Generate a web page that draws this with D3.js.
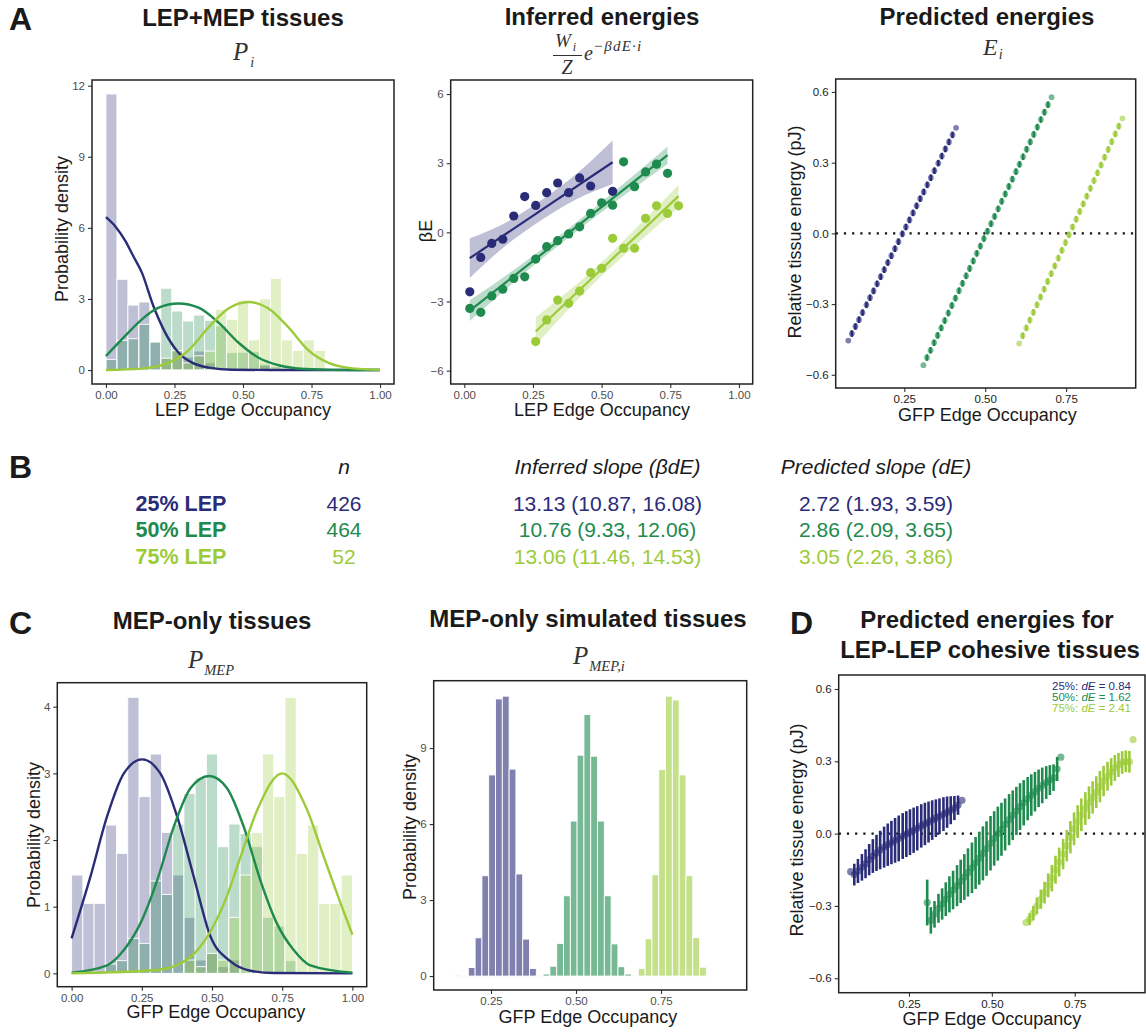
<!DOCTYPE html>
<html>
<head>
<meta charset="utf-8">
<script src="https://cdn.jsdelivr.net/npm/d3@7"></script>
<style>
  body { margin: 0; background: #fff; }
  svg { display: block; font-family: "Liberation Sans", Arial, Helvetica, sans-serif; }
</style>
</head>
<body>
<div id="fig"></div>
<script>
// series colours: 25%, 50%, 75% LEP
const colors = ["#2a2c78", "#1e8a4e", "#9ccb3a"];
const groupLabels = ["25% LEP", "50% LEP", "75% LEP"];

// ---- A (left): LEP+MEP tissues, histogram bins of width 0.04
const binWidth = 0.04;
const binLeft = [0, 0.04, 0.08, 0.12, 0.16, 0.2, 0.24, 0.28, 0.32, 0.36, 0.4, 0.44, 0.48, 0.52, 0.56, 0.6, 0.64, 0.68, 0.72, 0.76, 0.8, 0.84, 0.88, 0.92, 0.96];
const histA25 = [11.65, 3.83, 2.74, 2.87, 1.18, 0.5, 0.8, 0.55, 0.8, 0.3, 0, 0, 0, 0, 0.2, 0, 0, 0, 0, 0, 0, 0, 0, 0, 0];
const histA50 = [0.45, 1.25, 1.32, 1.93, 1.18, 3.45, 2.49, 2.07, 2.32, 2.1, 1.86, 0.73, 0.75, 0.77, 0.25, 0.15, 0, 0, 0, 0, 0, 0, 0, 0, 0];
const histA75 = [0, 0, 0, 0, 0, 0.5, 0.82, 0.3, 0.6, 0.8, 2.56, 2.14, 2.95, 1.27, 3.0, 3.87, 1.27, 0.83, 1.27, 0.83, 0, 0, 0, 0, 0];
// fitted densities
const fitA25 = [[0, 6.45], [0.035, 6.05], [0.0706, 5.45], [0.1, 4.8], [0.131, 4.11], [0.173, 2.7], [0.216, 1.58], [0.265, 0.73], [0.314, 0.31], [0.375, 0.1], [0.46, 0.01], [0.6, 0], [1, 0]];
const fitA50 = [[0, 0.59], [0.07, 1.44], [0.131, 2.14], [0.192, 2.63], [0.265, 2.81], [0.338, 2.63], [0.411, 2.0], [0.484, 1.15], [0.557, 0.52], [0.63, 0.2], [0.727, 0.04], [0.825, 0.005], [1, 0]];
const fitA75 = [[0, 0], [0.131, 0.06], [0.228, 0.3], [0.301, 0.83], [0.374, 1.8], [0.447, 2.6], [0.52, 2.87], [0.593, 2.6], [0.666, 1.8], [0.739, 0.83], [0.812, 0.3], [0.909, 0.06], [1, 0.01]];

// ---- A (middle): inferred energies, points, lm fits and bands
const ptsB25 = [[0.02, -2.58], [0.06, -1.09], [0.10, -0.48], [0.14, -0.30], [0.18, 0.71], [0.22, 1.55], [0.26, 1.17], [0.30, 1.72], [0.34, 2.14], [0.38, 1.72], [0.42, 2.36], [0.46, 2.01], [0.54, 1.78]];
const ptsB50 = [[0.02, -3.30], [0.06, -3.47], [0.10, -2.76], [0.14, -2.47], [0.18, -2.00], [0.22, -1.93], [0.26, -1.16], [0.30, -0.62], [0.34, -0.36], [0.38, -0.07], [0.42, 0.24], [0.46, 0.82], [0.50, 1.28], [0.54, 1.18], [0.58, 3.06], [0.62, 1.98], [0.66, 2.62], [0.70, 2.96], [0.74, 2.56]];
const ptsB75 = [[0.26, -4.74], [0.30, -3.80], [0.34, -2.94], [0.38, -3.08], [0.42, -2.55], [0.46, -1.75], [0.50, -1.56], [0.54, -0.26], [0.58, -0.69], [0.62, -0.69], [0.66, 0.61], [0.70, 1.15], [0.74, 0.82], [0.78, 1.15]];
const lineB25 = [[0.02, -1.12], [0.54, 3.04]];
const lineB50 = [[0.02, -3.4], [0.74, 3.35]];
const lineB75 = [[0.26, -4.3], [0.78, 1.57]];
const bandB25 = [[0.02, -1.98, -0.26], [0.15, -0.58, 0.42], [0.28, 0.53, 1.39], [0.41, 1.45, 2.55], [0.54, 2.1, 3.98]];
const bandB50 = [[0.02, -3.85, -2.95], [0.2, -1.96, -1.46], [0.38, -0.22, 0.17], [0.56, 1.41, 1.91], [0.74, 2.97, 3.73]];
const bandB75 = [[0.26, -4.92, -3.68], [0.39, -3.21, -2.45], [0.52, -1.67, -1.07], [0.65, -0.28, 0.48], [0.78, 1.09, 2.05]];

// ---- A (right): predicted energies [occupancy, energy (pJ)]
const predA25 = [[0.077, -0.455], [0.088, -0.425], [0.099, -0.395], [0.110, -0.366], [0.121, -0.336], [0.133, -0.303], [0.144, -0.273], [0.155, -0.244], [0.166, -0.214], [0.177, -0.184], [0.188, -0.154], [0.199, -0.124], [0.210, -0.095], [0.221, -0.065], [0.232, -0.035], [0.244, -0.002], [0.255, 0.027], [0.266, 0.057], [0.277, 0.087], [0.288, 0.117], [0.299, 0.147], [0.310, 0.176], [0.321, 0.206], [0.332, 0.236], [0.343, 0.266], [0.355, 0.298], [0.366, 0.328], [0.377, 0.358], [0.388, 0.388], [0.399, 0.418], [0.410, 0.448]];
const predA50 = [[0.309, -0.559], [0.320, -0.527], [0.331, -0.496], [0.342, -0.464], [0.353, -0.433], [0.364, -0.401], [0.375, -0.370], [0.386, -0.338], [0.397, -0.306], [0.408, -0.275], [0.419, -0.243], [0.430, -0.212], [0.441, -0.180], [0.452, -0.149], [0.463, -0.117], [0.474, -0.085], [0.485, -0.054], [0.496, -0.022], [0.507, 0.009], [0.518, 0.041], [0.529, 0.072], [0.540, 0.104], [0.551, 0.136], [0.562, 0.167], [0.573, 0.199], [0.584, 0.230], [0.595, 0.262], [0.606, 0.293], [0.617, 0.325], [0.628, 0.357], [0.639, 0.388], [0.650, 0.420], [0.661, 0.451], [0.672, 0.483], [0.683, 0.514], [0.694, 0.546], [0.705, 0.578]];
const predA75 = [[0.605, -0.467], [0.616, -0.434], [0.627, -0.401], [0.638, -0.368], [0.649, -0.335], [0.660, -0.303], [0.671, -0.270], [0.682, -0.237], [0.693, -0.204], [0.704, -0.171], [0.715, -0.138], [0.726, -0.105], [0.737, -0.072], [0.748, -0.039], [0.759, -0.006], [0.770, 0.027], [0.781, 0.060], [0.792, 0.093], [0.803, 0.125], [0.814, 0.158], [0.825, 0.191], [0.836, 0.224], [0.847, 0.257], [0.858, 0.290], [0.869, 0.323], [0.880, 0.356], [0.891, 0.389], [0.902, 0.422], [0.913, 0.455], [0.924, 0.488]];
const predErrA = 0.014;

// ---- B: table
const tableHeader = ["n", "Inferred slope (βdE)", "Predicted slope (dE)"];
const tableN = ["426", "464", "52"];
const tableInferred = ["13.13 (10.87, 16.08)", "10.76 (9.33, 12.06)", "13.06 (11.46, 14.53)"];
const tablePredicted = ["2.72 (1.93, 3.59)", "2.86 (2.09, 3.65)", "3.05 (2.26, 3.86)"];

// ---- C (left): MEP-only tissues, same bins as A
const histC25 = [1.475, 1.05, 1.05, 2.225, 1.8, 4.14, 2.65, 3.29, 2.115, 1.475, 0.84, 0.2, 0.3, 0.1, 0.2, 0, 0, 0, 0, 0, 0, 0, 0, 0, 0];
const histC50 = [0, 0, 0, 0.14, 0.19, 0.525, 0.45, 1.385, 1.185, 2.24, 2.7, 2.93, 3.29, 1.9, 2.24, 2.1, 1.9, 0.84, 0.71, 0.19, 0, 0, 0, 0, 0];
const histC75 = [0, 0, 0, 0, 0, 0, 0, 0, 0, 0, 0.2, 0.1, 0.3, 0.2, 0.84, 1.475, 2.115, 3.29, 2.65, 4.14, 1.8, 2.225, 1.05, 1.05, 1.475];
const fitC25 = [[0, 0.525], [0.067, 1.45], [0.126, 2.35], [0.186, 3.0], [0.251, 3.21], [0.316, 3.0], [0.376, 2.35], [0.435, 1.45], [0.494, 0.56], [0.566, 0.18], [0.637, 0.04], [0.72, 0.005], [1, 0]];
const fitC50 = [[0, 0.01], [0.126, 0.12], [0.186, 0.35], [0.245, 0.75], [0.305, 1.4], [0.364, 2.2], [0.424, 2.78], [0.49, 2.96], [0.553, 2.78], [0.613, 2.2], [0.672, 1.4], [0.731, 0.75], [0.791, 0.35], [0.85, 0.12], [1, 0.01]];
const fitC75 = [[0, 0], [0.305, 0.05], [0.424, 0.25], [0.483, 0.55], [0.543, 1.05], [0.602, 1.75], [0.661, 2.45], [0.75, 3.0], [0.839, 2.45], [0.898, 1.75], [0.958, 1.05], [1, 0.58]];

// ---- C (middle): simulated MEP-only tissues, bins of width 0.02
const simBinWidth = 0.02;
const simBinLeft = [0.1433, 0.1633, 0.1833, 0.2033, 0.2233, 0.2433, 0.2633, 0.2833, 0.3033, 0.3233, 0.3433, 0.3633, 0.3833, 0.4033, 0.4233, 0.4433, 0.4633, 0.4833, 0.5033, 0.5233, 0.5433, 0.5633, 0.5833, 0.6033, 0.6233, 0.6433, 0.6633, 0.6833, 0.7033, 0.7233, 0.7433, 0.7633, 0.7833, 0.8033, 0.8233, 0.8433, 0.8633, 0.8833];
const sim25 = [0.01, 0.03, 0.34, 1.51, 3.96, 7.94, 10.94, 11.05, 8.17, 4.03, 1.46, 0.30, 0.02, 0, 0, 0, 0, 0, 0, 0, 0, 0, 0, 0, 0, 0, 0, 0, 0, 0, 0, 0, 0, 0, 0, 0, 0, 0];
const sim50 = [0, 0, 0, 0, 0, 0, 0, 0, 0, 0, 0, 0, 0, 0.08, 0.39, 1.29, 3.17, 6.12, 8.72, 10.33, 8.68, 6.12, 3.17, 1.27, 0.37, 0.08, 0.01, 0, 0, 0, 0, 0, 0, 0, 0, 0, 0, 0];
const sim75 = [0, 0, 0, 0, 0, 0, 0, 0, 0, 0, 0, 0, 0, 0, 0, 0, 0, 0, 0, 0, 0, 0, 0, 0, 0, 0, 0.01, 0.30, 1.47, 4.00, 8.15, 11.05, 10.90, 7.94, 3.96, 1.52, 0.35, 0.03];

// ---- D: predicted energies for LEP-LEP cohesive tissues [occupancy, energy, half error]
const predD25 = [[0.074, -0.158, 0], [0.085, -0.170, 0.045], [0.096, -0.155, 0.05], [0.108, -0.140, 0.055], [0.119, -0.125, 0.06], [0.130, -0.108, 0.065], [0.141, -0.093, 0.07], [0.152, -0.080, 0.075], [0.163, -0.068, 0.08], [0.175, -0.056, 0.085], [0.186, -0.046, 0.088], [0.197, -0.037, 0.09], [0.208, -0.028, 0.093], [0.219, -0.020, 0.095], [0.231, -0.010, 0.095], [0.242, -0.002, 0.095], [0.253, 0.006, 0.095], [0.264, 0.014, 0.094], [0.275, 0.022, 0.092], [0.287, 0.032, 0.09], [0.298, 0.040, 0.088], [0.309, 0.048, 0.085], [0.320, 0.056, 0.082], [0.331, 0.064, 0.078], [0.342, 0.072, 0.074], [0.354, 0.081, 0.07], [0.365, 0.089, 0.065], [0.376, 0.097, 0.058], [0.387, 0.106, 0.05], [0.398, 0.118, 0.04], [0.410, 0.138, 0]];
const predD50 = [[0.305, -0.286, 0.095], [0.316, -0.360, 0.055], [0.327, -0.335, 0.055], [0.339, -0.310, 0.06], [0.350, -0.292, 0.065], [0.361, -0.272, 0.07], [0.372, -0.252, 0.075], [0.383, -0.234, 0.08], [0.395, -0.216, 0.085], [0.406, -0.198, 0.09], [0.417, -0.180, 0.095], [0.428, -0.161, 0.1], [0.440, -0.142, 0.105], [0.451, -0.122, 0.108], [0.462, -0.102, 0.11], [0.473, -0.082, 0.112], [0.484, -0.062, 0.113], [0.496, -0.040, 0.113], [0.507, -0.020, 0.113], [0.518, 0.000, 0.112], [0.529, 0.018, 0.11], [0.540, 0.038, 0.108], [0.552, 0.058, 0.106], [0.563, 0.076, 0.103], [0.574, 0.094, 0.1], [0.585, 0.112, 0.097], [0.596, 0.128, 0.094], [0.608, 0.145, 0.09], [0.619, 0.160, 0.086], [0.630, 0.174, 0.082], [0.641, 0.188, 0.078], [0.652, 0.200, 0.074], [0.664, 0.212, 0.068], [0.675, 0.222, 0.062], [0.686, 0.232, 0.055], [0.697, 0.268, 0.05], [0.708, 0.317, 0]];
const predD75 = [[0.603, -0.369, 0], [0.614, -0.355, 0.025], [0.625, -0.330, 0.03], [0.636, -0.300, 0.035], [0.648, -0.272, 0.04], [0.659, -0.245, 0.045], [0.670, -0.215, 0.05], [0.681, -0.185, 0.055], [0.692, -0.150, 0.058], [0.703, -0.118, 0.06], [0.715, -0.085, 0.063], [0.726, -0.050, 0.065], [0.737, -0.015, 0.067], [0.748, 0.020, 0.068], [0.759, 0.050, 0.068], [0.770, 0.078, 0.068], [0.782, 0.104, 0.068], [0.793, 0.128, 0.068], [0.804, 0.150, 0.067], [0.815, 0.172, 0.066], [0.826, 0.195, 0.065], [0.837, 0.218, 0.063], [0.849, 0.238, 0.06], [0.860, 0.256, 0.057], [0.871, 0.272, 0.054], [0.882, 0.285, 0.05], [0.893, 0.295, 0.047], [0.904, 0.300, 0.045], [0.915, 0.298, 0.045], [0.926, 0.390, 0]];
const legendD = [["25%: ", "0.84"], ["50%: ", "1.62"], ["75%: ", "2.41"]];

const serif = '"Liberation Serif", "DejaVu Serif", serif';
const ink = "#1a1a1a";

const svg = d3.select("#fig").append("svg").attr("width", 1146).attr("height", 1033);

function makePanel(p) {
  const x = d3.scaleLinear().domain(p.xDomain).range([p.left, p.right]);
  const y = d3.scaleLinear().domain(p.yDomain).range([p.bottom, p.top]);
  const g = svg.append("g");
  const plot = g.append("g");
  const xa = g.append("g").attr("transform", `translate(0,${p.bottom})`)
    .call(d3.axisBottom(x).tickValues(p.xTicks).tickFormat(d3.format(p.xFormat)).tickSize(4).tickPadding(3).tickSizeOuter(0));
  const ya = g.append("g").attr("transform", `translate(${p.left},0)`)
    .call(d3.axisLeft(y).tickValues(p.yTicks).tickFormat(d3.format(p.yFormat)).tickSize(4).tickPadding(3).tickSizeOuter(0));
  [xa, ya].forEach(a => {
    a.attr("font-family", null).attr("font-size", null);
    a.select(".domain").remove();
    a.selectAll("line").attr("stroke", "#333").attr("stroke-width", 1.1);
    a.selectAll("text").attr("font-size", 11.5).attr("fill", p.tickColor || "#4d4d4d");
  });
  g.append("rect")
    .attr("x", p.left).attr("y", p.top)
    .attr("width", p.right - p.left).attr("height", p.bottom - p.top)
    .attr("fill", "none").attr("stroke", "#222").attr("stroke-width", 1.5);
  g.append("text").attr("x", p.xTitle[0]).attr("y", p.xTitle[1])
    .attr("text-anchor", "middle").attr("font-size", 18).attr("fill", ink).text(p.xLabel);
  g.append("text").attr("transform", `translate(${p.yTitle[0]},${p.yTitle[1]}) rotate(-90)`)
    .attr("text-anchor", "middle").attr("font-size", 18).attr("fill", ink).text(p.yLabel);
  return { x, y, plot };
}

function title(txt, cx, base) {
  svg.append("text").attr("x", cx).attr("y", base).attr("text-anchor", "middle")
    .attr("font-size", 24).attr("font-weight", "bold").attr("fill", ink).text(txt);
}
function letter(txt, x, base) {
  svg.append("text").attr("x", x).attr("y", base)
    .attr("font-size", 32).attr("font-weight", "bold").attr("fill", ink).text(txt);
}
function mathSub(main, sub, x, base, size, subSize, dx, dy) {
  const t = svg.append("text").attr("x", x).attr("y", base)
    .attr("font-family", serif).attr("font-style", "italic").attr("font-size", size).attr("fill", "#333");
  t.append("tspan").text(main);
  t.append("tspan").attr("dx", dx).attr("dy", dy).attr("font-size", subSize).text(sub);
}

function drawHist(P, lefts, width, heights, color, alpha) {
  const data = lefts.map((l, i) => ({ l, h: heights[i] })).filter(d => d.h > 0);
  P.plot.append("g").selectAll("rect").data(data).join("rect")
    .attr("x", d => P.x(d.l))
    .attr("width", d => P.x(d.l + width) - P.x(d.l))
    .attr("y", d => P.y(d.h))
    .attr("height", d => P.y(0) - P.y(d.h))
    .attr("fill", color).attr("fill-opacity", alpha)
    .attr("stroke", "#fff").attr("stroke-width", 0.9);
}
function drawCurve(P, pts, color, w) {
  P.plot.append("path").datum(pts)
    .attr("d", d3.line().x(d => P.x(d[0])).y(d => P.y(d[1])).curve(d3.curveMonotoneX))
    .attr("fill", "none").attr("stroke", color).attr("stroke-width", w || 2.4);
}
function drawPred(P, pts, color, r, errW, errConst) {
  const g = P.plot.append("g");
  g.selectAll("line").data(pts.filter((d, i) => (errConst != null ? (i > 0 && i < pts.length - 1) : d[2] > 0))).join("line")
    .attr("x1", d => P.x(d[0])).attr("x2", d => P.x(d[0]))
    .attr("y1", d => P.y(d[1] - (errConst != null ? errConst : d[2])))
    .attr("y2", d => P.y(d[1] + (errConst != null ? errConst : d[2])))
    .attr("stroke", color).attr("stroke-width", errW);
  g.selectAll("circle").data(pts).join("circle")
    .attr("cx", d => P.x(d[0])).attr("cy", d => P.y(d[1])).attr("r", r)
    .attr("fill", color).attr("fill-opacity", 0.6);
}
function zeroLine(P) {
  P.plot.append("line")
    .attr("x1", P.x.range()[0]).attr("x2", P.x.range()[1])
    .attr("y1", P.y(0)).attr("y2", P.y(0))
    .attr("stroke", "#111").attr("stroke-width", 2.2).attr("stroke-dasharray", "2.2,6");
}

// ================= Panel A =================
letter("A", 9, 30);
title("LEP+MEP tissues", 243, 26);
title("Inferred energies", 602, 24.5);
title("Predicted energies", 987, 25);

mathSub("P", "i", 233, 60, 25, 14, 2, 7);
mathSub("E", "i", 983, 55, 24, 14, 1, 4);

// W_i / Z e^{-βdE·i}
mathSub("W", "i", 555, 47, 19, 12, 2, 4);
svg.append("line").attr("x1", 553).attr("x2", 582).attr("y1", 55.5).attr("y2", 55.5).attr("stroke", "#333").attr("stroke-width", 1);
svg.append("text").attr("x", 567).attr("y", 74).attr("text-anchor", "middle")
  .attr("font-family", serif).attr("font-style", "italic").attr("font-size", 20).attr("fill", "#333").text("Z");
svg.append("text").attr("x", 584).attr("y", 60)
  .attr("font-family", serif).attr("font-style", "italic").attr("font-size", 20).attr("fill", "#333").text("e");
svg.append("text").attr("x", 593).attr("y", 51).attr("letter-spacing", 1.2)
  .attr("font-family", serif).attr("font-style", "italic").attr("font-size", 15).attr("fill", "#333").text("−βdE·i");

const pA1 = makePanel({
  left: 92, right: 394, top: 80, bottom: 384,
  xDomain: [-0.051, 1.051], yDomain: [-0.59, 12.24],
  xTicks: [0, 0.25, 0.5, 0.75, 1], xFormat: ".2f",
  yTicks: [0, 3, 6, 9, 12], yFormat: "d",
  xLabel: "LEP Edge Occupancy", xTitle: [243, 415.5],
  yLabel: "Probability density", yTitle: [68, 229]
});
drawHist(pA1, binLeft, binWidth, histA25, colors[0], 0.3);
drawHist(pA1, binLeft, binWidth, histA50, colors[1], 0.3);
drawHist(pA1, binLeft, binWidth, histA75, colors[2], 0.3);
drawCurve(pA1, fitA25, colors[0]);
drawCurve(pA1, fitA50, colors[1]);
drawCurve(pA1, fitA75, colors[2]);

const pA2 = makePanel({
  left: 450.7, right: 752.7, top: 80, bottom: 384,
  xDomain: [-0.0495, 1.05], yDomain: [-6.58, 6.61],
  xTicks: [0, 0.25, 0.5, 0.75, 1], xFormat: ".2f",
  yTicks: [-6, -3, 0, 3, 6], yFormat: "d",
  xLabel: "LEP Edge Occupancy", xTitle: [602, 415.5],
  yLabel: "βE", yTitle: [432, 231]
});
const bands = [bandB25, bandB50, bandB75];
const fits = [lineB25, lineB50, lineB75];
const ptsB = [ptsB25, ptsB50, ptsB75];
bands.forEach((b, i) => {
  pA2.plot.append("path").datum(b)
    .attr("d", d3.area().x(d => pA2.x(d[0])).y0(d => pA2.y(d[1])).y1(d => pA2.y(d[2])).curve(d3.curveMonotoneX))
    .attr("fill", colors[i]).attr("fill-opacity", 0.3);
});
fits.forEach((f, i) => drawCurve(pA2, f, colors[i], 2.2));
ptsB.forEach((pts, i) => {
  pA2.plot.append("g").selectAll("circle").data(pts).join("circle")
    .attr("cx", d => pA2.x(d[0])).attr("cy", d => pA2.y(d[1])).attr("r", 4.6)
    .attr("fill", colors[i]);
});

const pA3 = makePanel({
  left: 835.7, right: 1135.7, top: 79, bottom: 388,
  xDomain: [0.038, 0.965], yDomain: [-0.656, 0.655],
  xTicks: [0.25, 0.5, 0.75], xFormat: ".2f",
  yTicks: [-0.6, -0.3, 0, 0.3, 0.6], yFormat: ".1f",
  tickColor: "#222",
  xLabel: "GFP Edge Occupancy", xTitle: [987.5, 421],
  yLabel: "Relative tissue energy (pJ)", yTitle: [801, 232]
});
zeroLine(pA3);
[predA25, predA50, predA75].forEach((pts, i) => drawPred(pA3, pts, colors[i], 2.9, 2.5, predErrA));

// ================= Panel B (table) =================
letter("B", 9, 478);
const colX = [344, 607.5, 876];
tableHeader.forEach((h, i) => {
  svg.append("text").attr("x", colX[i]).attr("y", 474).attr("text-anchor", "middle")
    .attr("font-size", 21).attr("font-style", "italic").attr("fill", ink).text(h);
});
const rowY = [510.5, 537, 563.5];
groupLabels.forEach((lab, i) => {
  svg.append("text").attr("x", 181).attr("y", rowY[i]).attr("text-anchor", "middle")
    .attr("font-size", 21.5).attr("font-weight", "bold").attr("fill", colors[i]).text(lab);
  [tableN[i], tableInferred[i], tablePredicted[i]].forEach((v, j) => {
    svg.append("text").attr("x", colX[j]).attr("y", rowY[i]).attr("text-anchor", "middle")
      .attr("font-size", 21).attr("fill", colors[i]).text(v);
  });
});

// ================= Panel C =================
letter("C", 9, 634);
title("MEP-only tissues", 212, 629);
title("MEP-only simulated tissues", 588, 627);
mathSub("P", "MEP", 188, 668, 25, 14.5, 1, 7);
mathSub("P", "MEP,i", 573, 664, 25, 14.5, 1, 7);

const pC1 = makePanel({
  left: 57.3, right: 366.7, top: 682.7, bottom: 986.7,
  xDomain: [-0.051, 1.051], yDomain: [-0.2, 4.36],
  xTicks: [0, 0.25, 0.5, 0.75, 1], xFormat: ".2f",
  yTicks: [0, 1, 2, 3, 4], yFormat: "d",
  xLabel: "GFP Edge Occupancy", xTitle: [216, 1018],
  yLabel: "Probability density", yTitle: [39.5, 835]
});
drawHist(pC1, binLeft, binWidth, histC25, colors[0], 0.3);
drawHist(pC1, binLeft, binWidth, histC50, colors[1], 0.3);
drawHist(pC1, binLeft, binWidth, histC75, colors[2], 0.3);
drawCurve(pC1, fitC25, colors[0]);
drawCurve(pC1, fitC50, colors[1]);
drawCurve(pC1, fitC75, colors[2]);

const pC2 = makePanel({
  left: 433.7, right: 746.7, top: 680.7, bottom: 990,
  xDomain: [0.0815, 1.002], yDomain: [-0.55, 11.66],
  xTicks: [0.25, 0.5, 0.75], xFormat: ".2f",
  yTicks: [0, 3, 6, 9], yFormat: "d",
  xLabel: "GFP Edge Occupancy", xTitle: [588, 1023],
  yLabel: "Probability density", yTitle: [416, 827]
});
drawHist(pC2, simBinLeft, simBinWidth, sim25, colors[0], 0.6);
drawHist(pC2, simBinLeft, simBinWidth, sim50, colors[1], 0.6);
drawHist(pC2, simBinLeft, simBinWidth, sim75, colors[2], 0.6);

// ================= Panel D =================
letter("D", 790, 634);
title("Predicted energies for", 987, 628);
title("LEP-LEP cohesive tissues", 990, 658);

const pD = makePanel({
  left: 838.7, right: 1145, top: 675, bottom: 992.7,
  xDomain: [0.038, 0.962], yDomain: [-0.66, 0.658],
  xTicks: [0.25, 0.5, 0.75], xFormat: ".2f",
  yTicks: [-0.6, -0.3, 0, 0.3, 0.6], yFormat: ".1f",
  tickColor: "#222",
  xLabel: "GFP Edge Occupancy", xTitle: [992, 1025],
  yLabel: "Relative tissue energy (pJ)", yTitle: [803, 830]
});
zeroLine(pD);
[predD25, predD50, predD75].forEach((pts, i) => drawPred(pD, pts, colors[i], 3.6, 2.6, null));

legendD.forEach((l, i) => {
  const t = svg.append("text").attr("x", 1131).attr("y", 690 + i * 11)
    .attr("text-anchor", "end").attr("font-size", 11.5).attr("fill", colors[i]);
  t.append("tspan").text(l[0]);
  t.append("tspan").attr("font-style", "italic").text("dE");
  t.append("tspan").text(" = " + l[1]);
});
</script>
</body>
</html>
